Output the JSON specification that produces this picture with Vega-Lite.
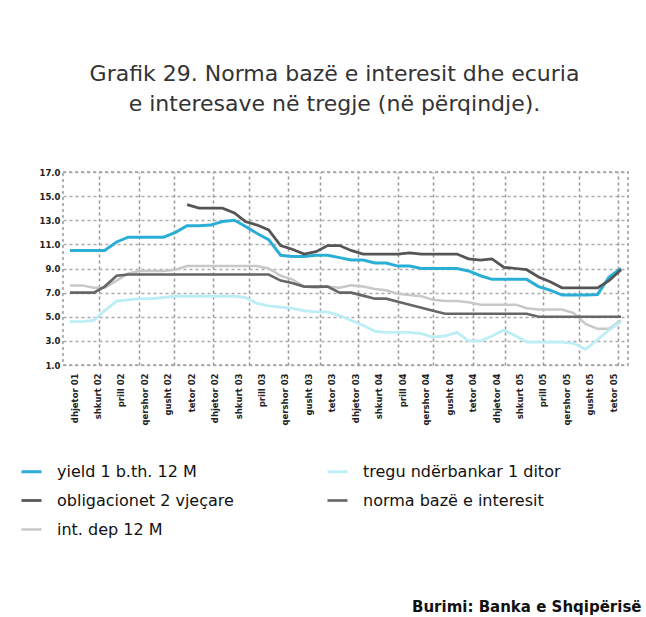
{
  "$schema": "https://vega.github.io/schema/vega-lite/v6.json",
  "autosize": {"type": "none"},
  "padding": {"left": 63, "top": 172, "right": 18, "bottom": 252},
  "width": 565,
  "height": 193,
  "background": "white",
  "title": {
    "text": ["Grafik 29. Norma bazë e interesit dhe ecuria", "e interesave në tregje (në përqindje)."],
    "font": "DejaVu Sans",
    "fontSize": 22,
    "fontWeight": "normal",
    "color": "#333333",
    "anchor": "middle",
    "dx": -11,
    "offset": 52,
    "lineHeight": 30
  },
  "data": {
    "values": [
      {"d": "2001-12-01", "Y": 10.5, "T": 4.6, "D": 7.6, "B": 7.0},
      {"d": "2002-01-01", "Y": 10.5, "T": 4.6, "D": 7.6, "B": 7.0},
      {"d": "2002-02-01", "Y": 10.5, "T": 4.7, "D": 7.4, "B": 7.0},
      {"d": "2002-03-01", "Y": 10.5, "T": 5.5, "D": 7.4, "B": 7.5},
      {"d": "2002-04-01", "Y": 11.2, "T": 6.3, "D": 8.0, "B": 8.4},
      {"d": "2002-05-01", "Y": 11.6, "T": 6.4, "D": 8.6, "B": 8.5},
      {"d": "2002-06-01", "Y": 11.6, "T": 6.5, "D": 8.8, "B": 8.5},
      {"d": "2002-07-01", "Y": 11.6, "T": 6.5, "D": 8.8, "B": 8.5},
      {"d": "2002-08-01", "Y": 11.6, "T": 6.6, "D": 8.8, "B": 8.5},
      {"d": "2002-09-01", "Y": 12.0, "T": 6.7, "D": 8.9, "B": 8.5},
      {"d": "2002-10-01", "Y": 12.55, "T": 6.7, "O": 14.3, "D": 9.2, "B": 8.5},
      {"d": "2002-11-01", "Y": 12.55, "T": 6.7, "O": 14.0, "D": 9.2, "B": 8.5},
      {"d": "2002-12-01", "Y": 12.6, "T": 6.7, "O": 14.0, "D": 9.2, "B": 8.5},
      {"d": "2003-01-01", "Y": 12.9, "T": 6.7, "O": 14.0, "D": 9.2, "B": 8.5},
      {"d": "2003-02-01", "Y": 13.0, "T": 6.7, "O": 13.6, "D": 9.2, "B": 8.5},
      {"d": "2003-03-01", "Y": 12.5, "T": 6.6, "O": 12.9, "D": 9.2, "B": 8.5},
      {"d": "2003-04-01", "Y": 11.9, "T": 6.1, "O": 12.6, "D": 9.2, "B": 8.5},
      {"d": "2003-05-01", "Y": 11.4, "T": 5.9, "O": 12.2, "D": 9.0, "B": 8.5},
      {"d": "2003-06-01", "Y": 10.1, "T": 5.8, "O": 10.9, "D": 8.4, "B": 8.0},
      {"d": "2003-07-01", "Y": 10.0, "T": 5.7, "O": 10.6, "D": 8.1, "B": 7.8},
      {"d": "2003-08-01", "Y": 10.0, "T": 5.5, "O": 10.2, "D": 7.5, "B": 7.5},
      {"d": "2003-09-01", "Y": 10.1, "T": 5.4, "O": 10.4, "D": 7.4, "B": 7.5},
      {"d": "2003-10-01", "Y": 10.1, "T": 5.4, "O": 10.9, "D": 7.5, "B": 7.5},
      {"d": "2003-11-01", "Y": 9.9, "T": 5.1, "O": 10.9, "D": 7.4, "B": 7.0},
      {"d": "2003-12-01", "Y": 9.7, "T": 4.7, "O": 10.5, "D": 7.6, "B": 7.0},
      {"d": "2004-01-01", "Y": 9.7, "T": 4.3, "O": 10.2, "D": 7.5, "B": 6.75},
      {"d": "2004-02-01", "Y": 9.45, "T": 3.8, "O": 10.2, "D": 7.3, "B": 6.5},
      {"d": "2004-03-01", "Y": 9.45, "T": 3.7, "O": 10.2, "D": 7.2, "B": 6.5},
      {"d": "2004-04-01", "Y": 9.2, "T": 3.7, "O": 10.2, "D": 6.9, "B": 6.25},
      {"d": "2004-05-01", "Y": 9.2, "T": 3.7, "O": 10.3, "D": 6.8, "B": 6.0},
      {"d": "2004-06-01", "Y": 9.0, "T": 3.6, "O": 10.2, "D": 6.7, "B": 5.75},
      {"d": "2004-07-01", "Y": 9.0, "T": 3.3, "O": 10.2, "D": 6.4, "B": 5.5},
      {"d": "2004-08-01", "Y": 9.0, "T": 3.4, "O": 10.2, "D": 6.3, "B": 5.25},
      {"d": "2004-09-01", "Y": 9.0, "T": 3.7, "O": 10.2, "D": 6.3, "B": 5.25},
      {"d": "2004-10-01", "Y": 8.8, "T": 3.0, "O": 9.8, "D": 6.2, "B": 5.25},
      {"d": "2004-11-01", "Y": 8.4, "T": 3.0, "O": 9.7, "D": 6.0, "B": 5.25},
      {"d": "2004-12-01", "Y": 8.1, "T": 3.4, "O": 9.8, "D": 6.0, "B": 5.25},
      {"d": "2005-01-01", "Y": 8.1, "T": 3.9, "O": 9.1, "D": 6.0, "B": 5.25},
      {"d": "2005-02-01", "Y": 8.1, "T": 3.4, "O": 9.0, "D": 6.0, "B": 5.25},
      {"d": "2005-03-01", "Y": 8.1, "T": 2.9, "O": 8.9, "D": 5.7, "B": 5.25},
      {"d": "2005-04-01", "Y": 7.5, "T": 2.9, "O": 8.3, "D": 5.6, "B": 5.0},
      {"d": "2005-05-01", "Y": 7.2, "T": 2.9, "O": 7.9, "D": 5.6, "B": 5.0},
      {"d": "2005-06-01", "Y": 6.8, "T": 2.9, "O": 7.4, "D": 5.6, "B": 5.0},
      {"d": "2005-07-01", "Y": 6.8, "T": 2.8, "O": 7.4, "D": 5.3, "B": 5.0},
      {"d": "2005-08-01", "Y": 6.8, "T": 2.3, "O": 7.4, "D": 4.4, "B": 5.0},
      {"d": "2005-09-01", "Y": 6.85, "T": 3.1, "O": 7.4, "D": 4.0, "B": 5.0},
      {"d": "2005-10-01", "Y": 8.3, "T": 3.9, "O": 8.0, "D": 4.0, "B": 5.0},
      {"d": "2005-11-01", "Y": 9.0, "T": 4.6, "O": 8.9, "D": 4.7, "B": 5.0}
    ]
  },
  "transform": [
    {"fold": ["D", "O", "T", "B", "Y"], "as": ["s", "v"]},
    {"filter": "isValid(datum.v)"}
  ],
  "layer": [
    {
      "mark": {"type": "line", "strokeCap": "butt", "strokeJoin": "miter"},
      "encoding": {
        "x": {
          "field": "d",
          "type": "temporal",
          "scale": {"type": "utc", "padding": 7, "nice": false},
          "axis": {
            "grid": false,
            "domain": false,
            "ticks": false,
            "tickCount": 24,
            "values": [
              {"year": 2001, "month": 12, "date": 1, "utc": true},
              {"year": 2002, "month": 2, "date": 1, "utc": true},
              {"year": 2002, "month": 4, "date": 1, "utc": true},
              {"year": 2002, "month": 6, "date": 1, "utc": true},
              {"year": 2002, "month": 8, "date": 1, "utc": true},
              {"year": 2002, "month": 10, "date": 1, "utc": true},
              {"year": 2002, "month": 12, "date": 1, "utc": true},
              {"year": 2003, "month": 2, "date": 1, "utc": true},
              {"year": 2003, "month": 4, "date": 1, "utc": true},
              {"year": 2003, "month": 6, "date": 1, "utc": true},
              {"year": 2003, "month": 8, "date": 1, "utc": true},
              {"year": 2003, "month": 10, "date": 1, "utc": true},
              {"year": 2003, "month": 12, "date": 1, "utc": true},
              {"year": 2004, "month": 2, "date": 1, "utc": true},
              {"year": 2004, "month": 4, "date": 1, "utc": true},
              {"year": 2004, "month": 6, "date": 1, "utc": true},
              {"year": 2004, "month": 8, "date": 1, "utc": true},
              {"year": 2004, "month": 10, "date": 1, "utc": true},
              {"year": 2004, "month": 12, "date": 1, "utc": true},
              {"year": 2005, "month": 2, "date": 1, "utc": true},
              {"year": 2005, "month": 4, "date": 1, "utc": true},
              {"year": 2005, "month": 6, "date": 1, "utc": true},
              {"year": 2005, "month": 8, "date": 1, "utc": true},
              {"year": 2005, "month": 10, "date": 1, "utc": true}
            ],
            "labelExpr": "['janar','shkurt','mars','prill','maj','qershor','korrik','gusht','shtator','tetor','nëntor','dhjetor'][utcmonth(datum.value)] + ' ' + utcFormat(datum.value, '%y')",
            "labelAngle": -90,
            "labelAlign": "right",
            "labelBaseline": "middle",
            "labelOffset": 4,
            "labelPadding": 8,
            "labelFont": "DejaVu Sans",
            "labelFontSize": 8.5,
            "labelFontWeight": "bold",
            "labelColor": "#222222",
            "labelOverlap": false,
            "title": "Burimi: Banka e Shqipërisë",
            "titleX": 578,
            "titleY": 241,
            "titleAlign": "right",
            "titleBaseline": "middle",
            "titleFont": "DejaVu Sans",
            "titleFontSize": 15,
            "titleFontWeight": "bold",
            "titleColor": "#111111"
          }
        },
        "y": {
          "field": "v",
          "type": "quantitative",
          "scale": {"domain": [1, 17], "nice": false, "zero": false},
          "axis": {
            "values": [1, 3, 5, 7, 9, 11, 13, 15, 17],
            "tickCount": 9,
            "format": ".1f",
            "labelOverlap": false,
            "grid": true,
            "gridColor": "#aaaaaa",
            "gridDash": [3, 3],
            "gridWidth": 1.5,
            "domain": false,
            "ticks": false,
            "labelPadding": 3,
            "labelFont": "DejaVu Sans",
            "labelFontSize": 8.5,
            "labelFontWeight": "bold",
            "labelColor": "#222222",
            "title": null
          }
        },
        "color": {
          "field": "s",
          "type": "nominal",
          "scale": {
            "domain": ["Y", "T", "O", "B", "D"],
            "range": ["#2aaed6", "#bdeef6", "#555555", "#666666", "#c8c8c8"]
          },
          "legend": {
            "orient": "none",
            "legendX": -43,
            "legendY": 288,
            "direction": "horizontal",
            "columns": 2,
            "columnPadding": 87,
            "rowPadding": 9,
            "title": null,
            "symbolType": "stroke",
            "symbolSize": 400,
            "symbolStrokeWidth": 3,
            "labelFont": "DejaVu Sans",
            "labelFontSize": 16,
            "labelLimit": 0,
            "labelColor": "#111111",
            "labelOffset": 14,
            "labelExpr": "datum.label == 'Y' ? 'yield 1 b.th. 12 M' : datum.label == 'T' ? 'tregu ndërbankar 1 ditor' : datum.label == 'O' ? 'obligacionet 2 vjeçare' : datum.label == 'B' ? 'norma bazë e interesit' : 'int. dep 12 M'"
          }
        },
        "strokeWidth": {
          "field": "s",
          "type": "nominal",
          "scale": {"domain": ["Y", "T", "O", "B", "D"], "range": [3, 2.5, 2, 3, 3]},
          "legend": null
        },
        "order": {"field": "s"}
      }
    },
    {
      "mark": {"type": "line", "opacity": 0},
      "encoding": {
        "x": {
          "field": "d",
          "type": "temporal",
          "axis": {
            "orient": "top",
            "grid": true,
            "gridColor": "#999999",
            "gridDash": [3, 3],
            "gridWidth": 1.5,
            "labels": false,
            "ticks": false,
            "domain": false,
            "title": null,
            "tickCount": 15,
            "values": [
              {"year": 2002, "month": 2, "date": 15, "utc": true},
              {"year": 2002, "month": 5, "date": 28, "utc": true},
              {"year": 2002, "month": 8, "date": 28, "utc": true},
              {"year": 2002, "month": 12, "date": 7, "utc": true},
              {"year": 2003, "month": 3, "date": 10, "utc": true},
              {"year": 2003, "month": 6, "date": 19, "utc": true},
              {"year": 2003, "month": 9, "date": 10, "utc": true},
              {"year": 2003, "month": 12, "date": 19, "utc": true},
              {"year": 2004, "month": 4, "date": 1, "utc": true},
              {"year": 2004, "month": 7, "date": 1, "utc": true},
              {"year": 2004, "month": 10, "date": 13, "utc": true},
              {"year": 2005, "month": 1, "date": 4, "utc": true},
              {"year": 2005, "month": 4, "date": 13, "utc": true},
              {"year": 2005, "month": 7, "date": 16, "utc": true},
              {"year": 2005, "month": 10, "date": 25, "utc": true}
            ]
          }
        },
        "y": {"field": "v", "type": "quantitative"},
        "detail": {"field": "s"}
      }
    }
  ],
  "resolve": {"axis": {"x": "independent"}},
  "config": {
    "view": {"stroke": "#999999", "strokeDash": [3, 3], "strokeWidth": 1.5},
    "font": "DejaVu Sans"
  }
}
